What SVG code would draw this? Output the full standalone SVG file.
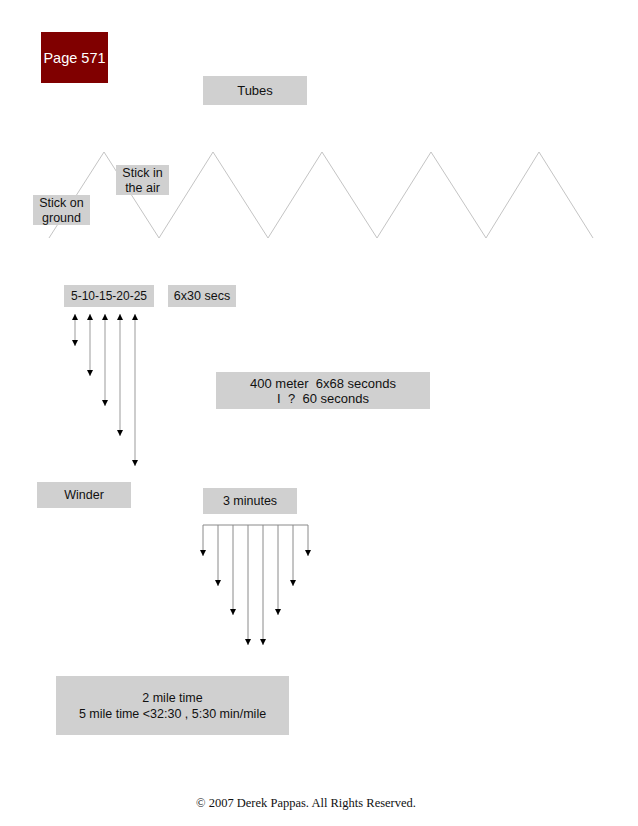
<svg xmlns="http://www.w3.org/2000/svg" width="638" height="826" viewBox="0 0 638 826">
<style>
.box{fill:#d0d0d0}
.t{font-family:"Liberation Sans",Arial,sans-serif;font-size:12.5px;fill:#111;text-anchor:middle;dominant-baseline:central;white-space:pre}
.zz{fill:none;stroke:#c4c4c4;stroke-width:1}
.a1{stroke:#bdbdbd;stroke-width:1.5;fill:none}
.a2{stroke:#8a8a8a;stroke-width:1;fill:none}
</style>
<defs>
<marker id="ah" viewBox="0 0 10 10" refX="10" refY="5" markerWidth="6" markerHeight="6" markerUnits="userSpaceOnUse" orient="auto-start-reverse">
<path d="M0,0 L10,5 L0,10 Z" fill="#000"/>
</marker>
</defs>
<rect width="638" height="826" fill="#fff"/>
<g id="page">
<rect x="41" y="32" width="67" height="51" fill="#800000"/>
<text x="74.5" y="58" class="t" style="fill:#fff;font-size:14.5px">Page 571</text>
</g>
<g id="tubes">
<rect class="box" x="203" y="76" width="104" height="29"/>
<text x="255" y="90" class="t" style="font-size:13px">Tubes</text>
</g>
<g id="zigzag">
<polyline class="zz" points="49,238 104,152 159,238 213,152 268,238 322,152 377,238 431,152 486,238 539,152 593,238"/>
</g>
<g id="stick-ground">
<rect class="box" x="33" y="195" width="57" height="30"/>
<text x="61.5" y="202.5" class="t">Stick on</text>
<text x="61.5" y="217.5" class="t">ground</text>
</g>
<g id="stick-air">
<rect class="box" x="116" y="165" width="53" height="30"/>
<text x="142.5" y="172.5" class="t">Stick in</text>
<text x="142.5" y="187.5" class="t">the air</text>
</g>
<g id="reps">
<rect class="box" x="64" y="285" width="90" height="22"/>
<text x="109" y="296" class="t" style="font-size:12px">5-10-15-20-25</text>
</g>
<g id="secs">
<rect class="box" x="168" y="285" width="68" height="22"/>
<text x="202" y="296" class="t">6x30 secs</text>
</g>
<g id="meter">
<rect class="box" x="216" y="372" width="214" height="37"/>
<text x="323" y="383" class="t" style="font-size:13px" xml:space="preserve">400 meter  6x68 seconds</text>
<text x="323" y="398" class="t" style="font-size:13px" xml:space="preserve">I  ?  60 seconds</text>
</g>
<g id="winder">
<rect class="box" x="37" y="482" width="94" height="26"/>
<text x="84" y="494.5" class="t">Winder</text>
</g>
<g id="minutes">
<rect class="box" x="203" y="488" width="94" height="26"/>
<text x="250" y="501" class="t">3 minutes</text>
</g>
<g id="mile">
<rect class="box" x="56" y="676" width="233" height="59"/>
<text x="172.5" y="698" class="t">2 mile time</text>
<text x="172.5" y="714" class="t">5 mile time &lt;32:30 , 5:30 min/mile</text>
</g>
<g id="connectors">
<line class="a1" x1="75" y1="314" x2="75" y2="346" marker-start="url(#ah)" marker-end="url(#ah)"/>
<line class="a1" x1="90" y1="314" x2="90" y2="376" marker-start="url(#ah)" marker-end="url(#ah)"/>
<line class="a1" x1="105" y1="314" x2="105" y2="406" marker-start="url(#ah)" marker-end="url(#ah)"/>
<line class="a1" x1="120" y1="314" x2="120" y2="436" marker-start="url(#ah)" marker-end="url(#ah)"/>
<line class="a1" x1="135" y1="314" x2="135" y2="466" marker-start="url(#ah)" marker-end="url(#ah)"/>
<line class="a2" x1="203" y1="525" x2="308" y2="525"/>
<line class="a2" x1="203" y1="525" x2="203" y2="556" marker-end="url(#ah)"/>
<line class="a2" x1="218" y1="525" x2="218" y2="586" marker-end="url(#ah)"/>
<line class="a2" x1="233" y1="525" x2="233" y2="615" marker-end="url(#ah)"/>
<line class="a2" x1="248" y1="525" x2="248" y2="645" marker-end="url(#ah)"/>
<line class="a2" x1="263" y1="525" x2="263" y2="645" marker-end="url(#ah)"/>
<line class="a2" x1="278" y1="525" x2="278" y2="615" marker-end="url(#ah)"/>
<line class="a2" x1="293" y1="525" x2="293" y2="586" marker-end="url(#ah)"/>
<line class="a2" x1="308" y1="525" x2="308" y2="556" marker-end="url(#ah)"/>
</g>
<text x="306" y="803" style="font-family:'Liberation Serif','Times New Roman',serif;font-size:12.5px;fill:#111;text-anchor:middle;dominant-baseline:central">© 2007 Derek Pappas. All Rights Reserved.</text>
</svg>
